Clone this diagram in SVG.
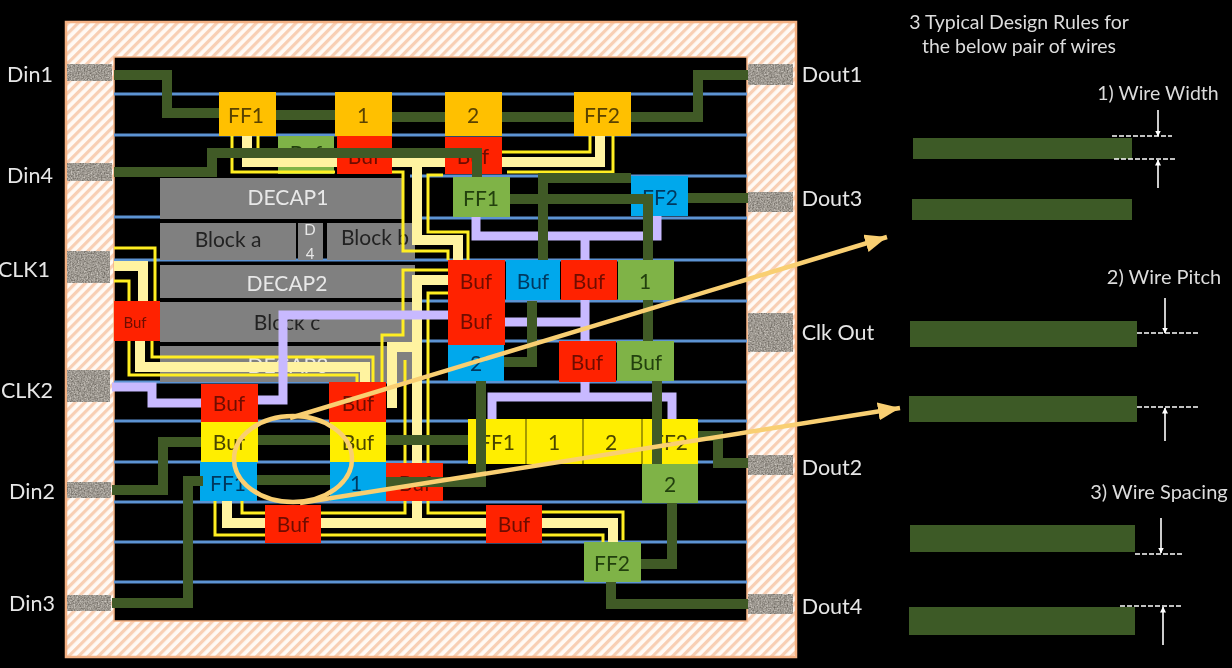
<svg xmlns="http://www.w3.org/2000/svg" width="1232" height="668" viewBox="0 0 1232 668">
<style>
text{font-family:Lato,"Open Sans","Liberation Sans",sans-serif;text-anchor:middle;dominant-baseline:central;transform:translateY(-2px)}
.lbl{fill:#e6e6e6;font-size:21.5px}
.rule{fill:#dcdcdc;font-size:19.5px}
.n{font-size:21px;fill:#222}
.d{fill:#e8e8e8;font-size:21px}
.o~text{fill:#5a4300}.r~text{fill:#6e0c00}.g~text{fill:#23400f}.b~text{fill:#06395f}.y~text{fill:#4a4400}
.o{fill:#ffc000}.r{fill:#ff2400}.g{fill:#7fb347}.b{fill:#00a8ec}.y{fill:#ffee00}.k{fill:#808080}
.blue{stroke:#5b93d3;stroke-width:3;fill:none}
.sig{stroke:#3f5a26;stroke-width:10;fill:none}
.ck1{stroke:#fff3a0;stroke-width:10;fill:none}
.ck2{stroke:#ffee22;stroke-width:3;fill:none}
.lav{stroke:#c8b9ff;stroke-width:9;fill:none}
.tan{stroke:#f9cf72;stroke-width:4.5;fill:none}
.wire{fill:#3d5a25}
.dash{stroke:#fff;stroke-width:1.6;stroke-dasharray:5 2;fill:none}
.ar{stroke:#fff;stroke-width:1.6;fill:none;marker-end:url(#wa)}
.port{filter:url(#noise)}
</style>
<defs>
<pattern id="hatch" width="7" height="7" patternUnits="userSpaceOnUse" patternTransform="rotate(-45)">
<rect width="7" height="7" fill="#fffaf5"/><rect width="7" height="3.2" fill="#f8cfb4"/>
</pattern>
<filter id="noise" x="0" y="0" width="1" height="1" color-interpolation-filters="sRGB">
<feTurbulence type="fractalNoise" baseFrequency="0.7" numOctaves="2" seed="4"/>
<feColorMatrix values=".55 0 0 0 .34  .55 0 0 0 .32  .55 0 0 0 .29  0 0 0 0 1"/>
</filter>
<filter id="soft" filterUnits="userSpaceOnUse" x="0" y="0" width="1232" height="668"><feGaussianBlur stdDeviation="0.6"/></filter>
<marker id="wa" markerWidth="7" markerHeight="7" refX="5.5" refY="3" orient="auto" markerUnits="userSpaceOnUse"><path d="M0 0L6 3L0 6z" fill="#fff"/></marker>
<marker id="ta" markerWidth="24" markerHeight="20" refX="22" refY="9" orient="auto" markerUnits="userSpaceOnUse"><path d="M0 0L22 9L0 18z" fill="#f9cf72"/></marker>
</defs>
<rect width="1232" height="668" fill="#000"/>
<g filter="url(#soft)">
<g id="die">
<rect x="66" y="22" width="730" height="635" fill="url(#hatch)" stroke="#f4b183" stroke-width="2.5"/>
<rect x="114" y="57" width="633" height="564" fill="#000" stroke="#f4b183" stroke-width="1.5"/>
</g>
<g id="tracks">
<path class="blue" d="M114 94H747M114 135H747M410 176H747M114 217H160M415 218H747M114 260H747M415 301H747M415 341H747M114 382H747M114 421H747M114 462H747M114 502H747M114 542H747M114 582H747"/>
</g>
<g id="decap1"><rect class="k" x="160" y="178" width="243" height="41"/><text class="d" x="288" y="198">DECAP1</text></g>
<g id="block-a"><rect class="k" x="160" y="223" width="136" height="37"/><text class="n" x="228" y="240">Block a</text></g>
<g id="decap4"><rect class="k" x="298" y="223" width="25" height="37"/><text class="d" x="310" y="231" style="font-size:15px">D</text><text class="d" x="310" y="255" style="font-size:15px">4</text></g>
<g id="block-b"><rect class="k" x="327" y="223" width="88" height="37"/><text class="n" x="375" y="238">Block b</text></g>
<g id="decap2"><rect class="k" x="160" y="265" width="255" height="33"/><text class="d" x="287" y="284">DECAP2</text></g>
<g id="block-c"><rect class="k" x="160" y="302" width="255" height="40"/><text class="n" x="287" y="323">Block c</text></g>
<g id="decap3"><rect class="k" x="160" y="346" width="253" height="36"/><text class="d" x="288" y="366">DECAP3</text></g>
<g id="buf-top-green"><rect class="g" x="278" y="136" width="56" height="38"/><text class="n" x="306" y="154">Buf</text></g>
<g id="connectors-clock">
<polyline class="ck1" points="247,136 247,162 445,162"/>
<polyline class="ck1" points="600,136 600,162 502,162"/>
<polyline class="ck1" points="417,162 417,240 458,240 458,260"/>
<polyline class="ck2" points="232,136 232,172 335,172"/>
<polyline class="ck2" points="258,136 258,153 335,153"/>
<polyline class="ck2" points="590,136 590,152 502,152"/>
<polyline class="ck2" points="613,136 613,172 507,172"/>
<polyline class="ck2" points="390,172 403,172 403,251 448,251 448,260"/>
<polyline class="ck2" points="443,175 428,175 428,232 468,232 468,260"/>
<polyline class="ck1" points="114,266 143,266 143,301"/>
<polyline class="ck2" points="114,248 155,248 155,301"/>
<polyline class="ck2" points="114,281 129,281 129,301"/>
<polyline class="ck2" points="129,341 129,375 357,375 357,382"/>
<polyline class="ck1" points="140,341 140,367 365,367 365,382"/>
<polyline class="ck2" points="152,341 152,357 373,357 373,382"/>
<polyline class="ck1" points="448,280 417,280 417,523"/>
<polyline class="ck1" points="392,408 392,347 417,347"/>
<polyline class="ck2" points="448,270 403,270 403,335 382,335 382,382"/>
<polyline class="ck2" points="448,293 428,293 428,513 486,513"/>
<polyline class="ck2" points="405,360 405,513 321,513"/>
<polyline class="ck1" points="227,501 227,523 265,523"/>
<polyline class="ck1" points="321,523 486,523"/>
<polyline class="ck1" points="542,523 613,523 613,542"/>
<polyline class="ck2" points="215,501 215,535 265,535"/>
<polyline class="ck2" points="321,535 486,535"/>
<polyline class="ck2" points="542,535 603,535 603,542"/>
<polyline class="ck2" points="242,501 242,513 265,513"/>
<polyline class="ck2" points="542,512 623,512 623,540"/>
<polyline class="lav" points="112,387 152,387 152,403 201,403"/>
<polyline class="lav" points="258,400 283,400 283,315 448,315"/>
<polyline class="lav" points="505,322 585,322"/>
<polyline class="lav" points="585,341 585,236"/>
<polyline class="lav" points="476,217 476,236 657,236 657,216"/>
<polyline class="lav" points="585,382 585,397"/>
<polyline class="lav" points="492,419 492,397 672,397 672,419"/>
</g>
<g id="n-ff1-o"><rect class="o" x="219" y="92" width="57" height="44"/><text class="n" x="246" y="116">FF1</text></g>
<g id="n-1-o"><rect class="o" x="335" y="92" width="57" height="44"/><text class="n" x="363" y="116">1</text></g>
<g id="n-2-o"><rect class="o" x="445" y="92" width="57" height="44"/><text class="n" x="473" y="116">2</text></g>
<g id="n-ff2-o"><rect class="o" x="574" y="92" width="57" height="44"/><text class="n" x="602" y="116">FF2</text></g>
<g id="n-buf-r1"><rect class="r" x="337" y="136" width="55" height="38"/><text class="n" x="364" y="157">Buf</text></g>
<g id="n-buf-r2"><rect class="r" x="445" y="137" width="57" height="37"/><text class="n" x="473" y="157">Buf</text></g>
<g id="n-ff1-g"><rect class="g" x="453" y="177" width="57" height="40"/><text class="n" x="481" y="199">FF1</text></g>
<g id="n-ff2-b"><rect class="b" x="631" y="176" width="57" height="40"/><text class="n" x="660" y="198">FF2</text></g>
<g id="n-buf-r3"><rect class="r" x="448" y="260" width="57" height="41"/><text class="n" x="476" y="282">Buf</text></g>
<g id="n-buf-b"><rect class="b" x="506" y="260" width="54" height="40"/><text class="n" x="533" y="282">Buf</text></g>
<g id="n-buf-r4"><rect class="r" x="561" y="260" width="56" height="40"/><text class="n" x="589" y="282">Buf</text></g>
<g id="n-1-g"><rect class="g" x="618" y="260" width="56" height="40"/><text class="n" x="645" y="282">1</text></g>
<g id="n-buf-r5"><rect class="r" x="448" y="301" width="57" height="44"/><text class="n" x="476" y="322">Buf</text></g>
<g id="n-2-b"><rect class="b" x="448" y="345" width="56" height="36"/><text class="n" x="476" y="364">2</text></g>
<g id="n-buf-r6"><rect class="r" x="559" y="341" width="57" height="41"/><text class="n" x="587" y="363">Buf</text></g>
<g id="n-buf-g"><rect class="g" x="617" y="341" width="57" height="40"/><text class="n" x="646" y="363">Buf</text></g>
<g id="n-yellow-row"><rect class="y" x="468" y="419" width="230" height="45"/><path d="M526 419V464M583 419V464M642 419V464" stroke="#6b6400" stroke-width="1.2"/><text class="n" x="497" y="443">FF1</text><text class="n" x="554" y="443">1</text><text class="n" x="611" y="443">2</text><text class="n" x="670" y="443">FF2</text></g>
<g id="n-2-g"><rect class="g" x="642" y="464" width="56" height="39"/><text class="n" x="670" y="485">2</text></g>
<g id="n-ff2-g"><rect class="g" x="584" y="542" width="57" height="40"/><text class="n" x="612" y="564">FF2</text></g>
<g id="n-buf-r7"><rect class="r" x="486" y="505" width="56" height="38"/><text class="n" x="514" y="525">Buf</text></g>
<g id="n-buf-r8"><rect class="r" x="265" y="505" width="56" height="38"/><text class="n" x="293" y="525">Buf</text></g>
<g id="n-buf-small"><rect class="r" x="114" y="301" width="46" height="40"/><text class="n" x="135" y="324" style="font-size:15px">Buf</text></g>
<g id="n-buf-r9"><rect class="r" x="201" y="384" width="57" height="38"/><text class="n" x="229" y="404">Buf</text></g>
<g id="n-buf-y1"><rect class="y" x="201" y="422" width="57" height="40"/><text class="n" x="229" y="443">Buf</text></g>
<g id="n-ff1-b"><rect class="b" x="200" y="462" width="57" height="39"/><text class="n" x="228" y="484">FF1</text></g>
<g id="n-buf-r10"><rect class="r" x="329" y="382" width="57" height="40"/><text class="n" x="358" y="404">Buf</text></g>
<g id="n-buf-y2"><rect class="y" x="330" y="422" width="56" height="40"/><text class="n" x="358" y="443">Buf</text></g>
<g id="n-1-b"><rect class="b" x="330" y="462" width="56" height="39"/><text class="n" x="356" y="484">1</text></g>
<g id="n-buf-r11"><rect class="r" x="386" y="463" width="57" height="38"/><text class="n" x="415" y="484">Buf</text></g>
<g id="connectors-signal">
<polyline class="sig" points="114,75 167,75 167,113 219,113"/>
<polyline class="sig" points="276,115 335,115"/>
<polyline class="sig" points="392,117 445,117"/>
<polyline class="sig" points="502,117 574,117"/>
<polyline class="sig" points="631,117 698,117 698,75 748,75"/>
<polyline class="sig" points="114,172 212,172 212,153 477,153 477,177"/>
<polyline class="sig" points="510,199 648,199 648,260"/>
<polyline class="sig" points="631,178 543,178 543,260"/>
<polyline class="sig" points="688,198 748,198"/>
<polyline class="sig" points="648,300 648,341"/>
<polyline class="sig" points="532,301 532,362 504,362"/>
<polyline class="sig" points="657,381 657,464"/>
<polyline class="sig" points="672,503 672,564 641,564"/>
<polyline class="sig" points="611,582 611,604 748,604"/>
<polyline class="sig" points="698,436 718,436 718,463 748,463"/>
<polyline class="sig" points="481,381 481,482 386,482"/>
<polyline class="sig" points="386,440 468,440"/>
<polyline class="sig" points="258,440 330,440"/>
<polyline class="sig" points="112,490 163,490 163,442 201,442"/>
<polyline class="sig" points="112,603 188,603 188,481 203,481"/>
<polyline class="sig" points="257,480 330,480"/>
</g>
<g id="port-din1"><rect class="port" x="67" y="64" width="45" height="17"/><text class="lbl" x="30" y="76">Din1</text></g>
<g id="port-din4"><rect class="port" x="67" y="163" width="45" height="18"/><text class="lbl" x="30" y="177">Din4</text></g>
<g id="port-clk1"><rect class="port" x="67" y="251" width="43" height="32"/><text class="lbl" x="24" y="271">CLK1</text></g>
<g id="port-clk2"><rect class="port" x="67" y="370" width="43" height="32"/><text class="lbl" x="27" y="392">CLK2</text></g>
<g id="port-din2"><rect class="port" x="67" y="482" width="44" height="16"/><text class="lbl" x="32" y="493">Din2</text></g>
<g id="port-din3"><rect class="port" x="67" y="595" width="44" height="16"/><text class="lbl" x="32" y="605">Din3</text></g>
<g id="port-dout1"><rect class="port" x="748" y="64" width="45" height="21"/><text class="lbl" x="832" y="76">Dout1</text></g>
<g id="port-dout3"><rect class="port" x="748" y="192" width="45" height="20"/><text class="lbl" x="832" y="200">Dout3</text></g>
<g id="port-clkout"><rect class="port" x="748" y="313" width="45" height="39"/><text class="lbl" x="838" y="334">Clk Out</text></g>
<g id="port-dout2"><rect class="port" x="748" y="455" width="45" height="20"/><text class="lbl" x="832" y="469">Dout2</text></g>
<g id="port-dout4"><rect class="port" x="748" y="594" width="45" height="20"/><text class="lbl" x="832" y="608">Dout4</text></g>
<g id="callouts">
<ellipse class="tan" cx="293" cy="459" rx="59" ry="43"/>
<line class="tan" x1="290" y1="418" x2="887" y2="237" marker-end="url(#ta)"/>
<line class="tan" x1="300" y1="503" x2="900" y2="408" marker-end="url(#ta)"/>
</g>
<g id="rules">
<text class="rule" x="1019" y="23">3 Typical Design Rules for</text>
<text class="rule" x="1019" y="47">the below pair of wires</text>
<text class="rule" x="1158" y="94">1) Wire Width</text>
<text class="rule" x="1164" y="278" style="font-size:20px">2) Wire Pitch</text>
<text class="rule" x="1159" y="493" style="font-size:20px">3) Wire Spacing</text>
<rect class="wire" x="913" y="138" width="219" height="21"/>
<rect class="wire" x="912" y="199" width="220" height="21"/>
<rect class="wire" x="910" y="321" width="227" height="26"/>
<rect class="wire" x="909" y="396" width="228" height="26"/>
<rect class="wire" x="910" y="525" width="225" height="27"/>
<rect class="wire" x="909" y="607" width="226" height="28"/>
<path class="dash" d="M1112 136H1172M1114 159H1175M1137 333H1198M1137 407H1198M1135 554H1183M1120 606H1183"/>
<line class="ar" x1="1158" y1="110" x2="1158" y2="136"/>
<line class="ar" x1="1158" y1="188" x2="1158" y2="160"/>
<line class="ar" x1="1165" y1="298" x2="1165" y2="333"/>
<line class="ar" x1="1165" y1="441" x2="1165" y2="408"/>
<line class="ar" x1="1161" y1="518" x2="1161" y2="553"/>
<line class="ar" x1="1163" y1="645" x2="1163" y2="607"/>
</g>
</g>
</svg>
